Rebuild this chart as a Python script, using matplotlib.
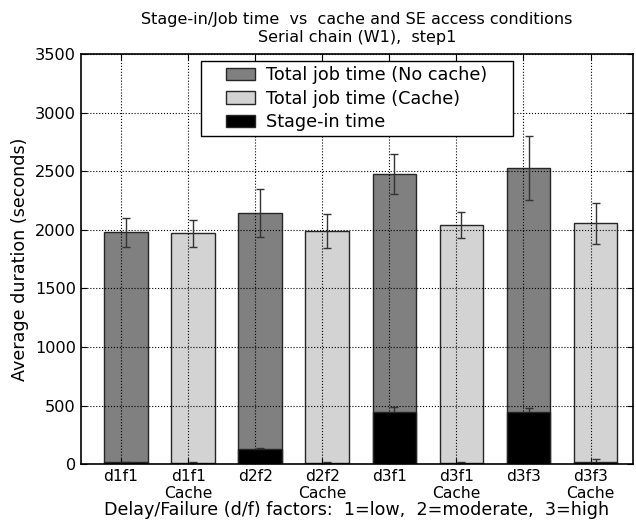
import numpy as np
import matplotlib
matplotlib.use('Agg')
import matplotlib.pyplot as plt
import matplotlib.patches as mpatches
from matplotlib.transforms import IdentityTransform

# reading of the chart values
labels = ['d1f1', 'd1f1\nCache', 'd2f2', 'd2f2\nCache',
          'd3f1', 'd3f1\nCache', 'd3f3', 'd3f3\nCache']
cache = [False, True, False, True, False, True, False, True]
job_time = [1979, 1971, 2144, 1991, 2478, 2042, 2531, 2056]
job_err = [125, 115, 205, 143, 170, 115, 273, 177]
stage_in = [15, 12, 130, 12, 443, 12, 443, 20]
stage_err = [5, 4, 10, 4, 45, 4, 40, 25]

width = 0.65
ind = np.arange(len(labels))
edge = '0.15'

fig = plt.figure(figsize=(6.36, 5.21), dpi=100)
ax = fig.add_axes([0.127, 0.109, 0.868, 0.787])

colors = ['#d3d3d3' if c else '#808080' for c in cache]
ax.bar(ind, job_time, width, color=colors, edgecolor=edge,
       linewidth=1, align='edge', zorder=2)
ax.errorbar(ind + width / 2, job_time, yerr=job_err, fmt='none',
            ecolor='0.2', elinewidth=1, capsize=2.8, capthick=1, zorder=3)
# stage-in error bars go under the black bars so only the top half shows
ax.errorbar(ind + width / 2, stage_in, yerr=stage_err, fmt='none',
            ecolor='0.2', elinewidth=1, capsize=2.8, capthick=1, zorder=2.5)
ax.bar(ind, stage_in, width, color='black', edgecolor=edge,
       linewidth=1, align='edge', zorder=2.6)

h1 = mpatches.Patch(facecolor='#808080', edgecolor=edge, label='Total job time (No cache)')
h2 = mpatches.Patch(facecolor='#d3d3d3', edgecolor=edge, label='Total job time (Cache)')
h3 = mpatches.Patch(facecolor='black', edgecolor=edge, label='Stage-in time')
leg = ax.legend(handles=[h1, h2, h3], loc='upper center', fontsize=12.7,
                frameon=False, borderaxespad=0.4, borderpad=0.27,
                labelspacing=0.32, handlelength=1.6, handleheight=0.7,
                handletextpad=0.65)
leg.set_zorder(6)

ax.set_xlim(-0.35, 7.88)
ax.set_ylim(0, 3500)
ax.set_xticks(ind + 0.25)
ax.set_xticklabels(labels, fontsize=11.2)
ax.set_yticks(np.arange(0, 3501, 500))
ax.tick_params(axis='y', labelsize=11.6)
ax.tick_params(direction='in', length=4, top=True, right=True)
ax.grid(True, linestyle=':', color='black', linewidth=0.8, zorder=1)
ax.set_axisbelow(False)
for s in ax.spines.values():
    s.set_linewidth(1.2)
    s.set_zorder(4)

ax.set_xlabel('Delay/Failure (d/f) factors:  1=low,  2=moderate,  3=high', fontsize=12.6, labelpad=0)
ax.set_ylabel('Average duration (seconds)', fontsize=12.6)
ax.set_title('Stage-in/Job time  vs  cache and SE access conditions\nSerial chain (W1),  step1',
             fontsize=11.5, pad=9)

# legend frame: wider side padding than matplotlib gives
fig.canvas.draw()
bb = leg.get_window_extent()
padx = 21
frame = mpatches.Rectangle((bb.x0 - padx, bb.y0), bb.width + 2 * padx, bb.height,
                           transform=IdentityTransform(), facecolor='white',
                           edgecolor='black', linewidth=1, zorder=5)
ax.add_patch(frame)

fig.savefig('out.png', dpi=100, facecolor='white')
